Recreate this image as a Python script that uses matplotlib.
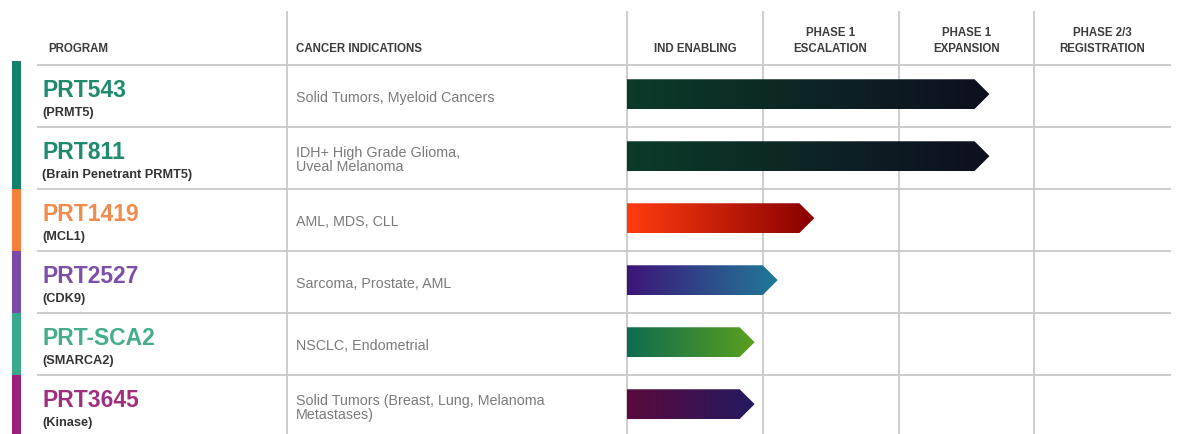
import matplotlib.pyplot as plt
import numpy as np
from matplotlib.patches import Polygon
from matplotlib.colors import to_rgb

plt.rcParams['font.family'] = ['Liberation Sans', 'DejaVu Sans']

# table content
programs = ['PRT543', 'PRT811', 'PRT1419', 'PRT2527', 'PRT-SCA2', 'PRT3645']
targets = ['(PRMT5)', '(Brain Penetrant PRMT5)', '(MCL1)', '(CDK9)', '(SMARCA2)', '(Kinase)']
indications = ['Solid Tumors, Myeloid Cancers',
               'IDH+ High Grade Glioma,\nUveal Melanoma',
               'AML, MDS, CLL',
               'Sarcoma, Prostate, AML',
               'NSCLC, Endometrial',
               'Solid Tumors (Breast, Lung, Melanoma\nMetastases)']
phases = ['IND ENABLING', 'PHASE 1\nESCALATION', 'PHASE 1\nEXPANSION', 'PHASE 2/3\nREGISTRATION']

# how far each program has got, in phase columns (arrow tip)
progress = [2.67, 2.67, 1.38, 1.11, 0.94, 0.94]

# colours
name_colors = ['#1f8a6e', '#1f8a6e', '#f08a4e', '#7d50a8', '#45ad8e', '#a0307e']
strip_colors = ['#12806a', '#12806a', '#f47e3c', '#7a4aa8', '#3aa88a', '#9c1f7c']
grad_start = ['#0b3b29', '#0b3b29', '#ff3c10', '#3e1578', '#0e6b50', '#5a0a3c']
grad_end = ['#0e0f1f', '#0e0f1f', '#880000', '#207a98', '#5aa01e', '#241a60']
grid_color = '#c9c9cd'

W, H = 1181, 435
fig = plt.figure(figsize=(W / 100, H / 100), dpi=100)

# full figure axes in pixel units for the table part
tax = fig.add_axes([0, 0, 1, 1])
tax.set_xlim(0, W)
tax.set_ylim(H, 0)
tax.axis('off')

top = 66          # header bottom line
row_h = 62        # row height
x0, col_w = 627, 135.75   # pipeline start + phase column width
n = len(programs)

# pipeline axes, one unit per phase, one unit per row
pax = fig.add_axes([x0 / W, (H - (top + n * row_h)) / H, 4 * col_w / W, n * row_h / H])
pax.set_xlim(0, 4)
pax.set_ylim(n, 0)
pax.axis('off')

# grid lines
for i in range(n):
    tax.plot([38, x0 + 4 * col_w], [top + i * row_h] * 2, color=grid_color, lw=1.3)
for xv in [287] + [x0 + k * col_w for k in range(4)]:
    tax.plot([xv, xv], [13, H], color=grid_color, lw=1.3)

# left colour strip
for i in range(n):
    y1 = top - 4 if i == 0 else top + i * row_h
    tax.fill_between([12, 21], y1, top + (i + 1) * row_h, color=strip_colors[i], lw=0)

# headers
hdr = dict(fontsize=8.3, fontweight='bold', color='#3c3c3c')
tax.text(48, 52, 'PROGRAM', ha='left', va='baseline', **hdr)
tax.text(296, 52, 'CANCER INDICATIONS', ha='left', va='baseline', **hdr)
for k, ph in enumerate(phases):
    tax.text(x0 + (k + 0.5) * col_w, 52.5, ph, ha='center', va='baseline',
             linespacing=1.45, multialignment='center', **hdr)

# rows
for i in range(n):
    rt = top + i * row_h
    tax.text(42, rt + 31, programs[i], fontsize=16.5, fontweight='bold',
             color=name_colors[i], va='baseline')
    tax.text(42, rt + 50, targets[i], fontsize=9.2, fontweight='bold',
             color='#333333', va='baseline')
    tax.text(296, rt + row_h / 2 + 1, indications[i], fontsize=10.3,
             color='#7a7a7a', va='center', linespacing=1.05)

# gradient arrows
bh = 0.48
head = 0.11
for i in range(n):
    yc = i + 0.47
    end = progress[i]
    pts = [(0, yc - bh / 2), (end - head, yc - bh / 2), (end, yc),
           (end - head, yc + bh / 2), (0, yc + bh / 2)]
    poly = Polygon(pts, closed=True, facecolor='none', edgecolor='none')
    pax.add_patch(poly)
    c0 = np.array(to_rgb(grad_start[i]))
    c1 = np.array(to_rgb(grad_end[i]))
    t = np.linspace(0, 1, 256)[:, None]
    grad = (c0 * (1 - t) + c1 * t)[None, :, :]
    im = pax.imshow(grad, extent=(0, end, yc + bh / 2, yc - bh / 2),
                    aspect='auto', interpolation='bilinear')
    im.set_clip_path(poly)

pax.set_xlim(0, 4)
pax.set_ylim(n, 0)

fig.savefig('out.png', dpi=100)
